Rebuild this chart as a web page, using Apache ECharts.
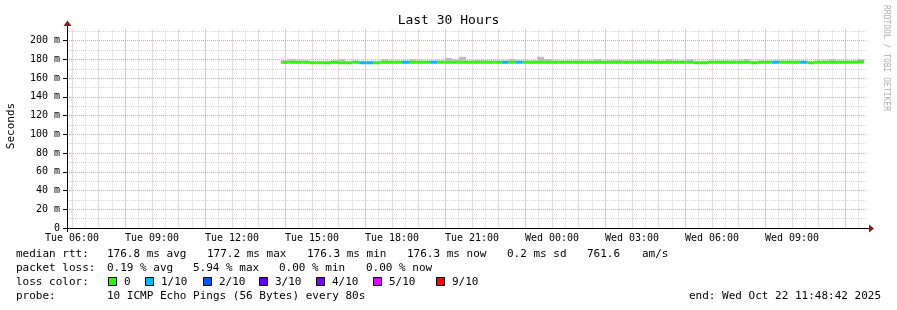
<!DOCTYPE html>
<html><head><meta charset="utf-8">
<script src="https://cdn.jsdelivr.net/npm/echarts@6/dist/echarts.min.js"></script>
<style>html,body{margin:0;padding:0;background:#fff}#c{width:897px;height:310px}</style>
</head><body><div id="c"></div>
<script>
// ---- chart data ----
const chartTitle = 'Last 30 Hours';
const yAxisTitle = 'Seconds';
const startHour = 5 + 48 / 60 + 42 / 3600;   // Tue 05:48:42, hours since Tue 00:00
const endHour = startHour + 30;                // Wed 11:48:42
const xLabelHours = [6, 9, 12, 15, 18, 21, 24, 27, 30, 33];
const xLabelTexts = ['Tue 06:00', 'Tue 09:00', 'Tue 12:00', 'Tue 15:00', 'Tue 18:00', 'Tue 21:00', 'Wed 00:00', 'Wed 03:00', 'Wed 06:00', 'Wed 09:00'];
const xStrongGridHours = [8, 11, 14, 17, 20, 23, 26, 29, 32, 35];
const xMajorGridHours = [6,7,9,10,12,13,15,16,18,19,21,22,24,25,27,28,30,31,33,34];
const xMinorGridHours = [6,6.5,7,7.5,8,8.5,9,9.5,10,10.5,11,11.5,12,12.5,13,13.5,14,14.5,15,15.5,16,16.5,17,17.5,18,18.5,19,19.5,20,20.5,21,21.5,22,22.5,23,23.5,24,24.5,25,25.5,26,26.5,27,27.5,28,28.5,29,29.5,30,30.5,31,31.5,32,32.5,33,33.5,34,34.5,35,35.5];
const yMajorTicks = [0, 20, 40, 60, 80, 100, 120, 140, 160, 180, 200];
const yTickLabels = ['0', '20 m', '40 m', '60 m', '80 m', '100 m', '120 m', '140 m', '160 m', '180 m', '200 m'];
const yMinorTicks = [0, 10, 20, 30, 40, 50, 60, 70, 80, 90, 100, 110, 120, 130, 140, 150, 160, 170, 180, 190, 200, 210];
const yMax = 212;

const dataStartHour = 13.84;        // first RRD row (Tue ~13:50)
const stepHours = 960 / 3600;       // 16 min consolidation step
// median rtt per step (ms)
const medianMs = [
 176.9,176.9,176.9,176.9,176.3,176.3,176.3,176.9,176.3,176.3,176.9,176.3,176.3,176.3,176.9,176.9,176.9,176.9,176.9,176.9,176.9,176.9,
 176.9,176.9,176.9,176.9,176.9,176.9,176.9,176.9,176.9,176.9,176.9,176.9,176.9,176.9,176.9,176.9,176.9,176.9,176.9,176.9,176.9,176.9,
 176.9,176.9,176.9,176.9,176.9,176.9,176.9,176.9,176.9,176.9,176.9,176.9,176.9,176.9,176.3,176.3,176.9,176.9,176.9,176.9,176.9,176.9,
 176.3,176.9,176.9,176.9,176.9,176.9,176.9,176.9,176.3,176.9,176.9,176.9,176.9,176.9,176.9,177.2];
// packet loss per step (%)
const lossPct = [
 0,0,0,0,0,0,0,0,0,0,0,5.94,1.39,0,0,0,0,1.39,0,0,0,1.39,
 0,0,0,0,0,0,0,0,0,1.39,0,1.39,0,0,0,0,0,0,0,0,0,0,
 0,0,0,0,0,0,0,0,0,0,0,0,0,0,0,0,0,0,0,0,0,0,
 0,0,0,1.39,0,0,0,1.39,0,0,0,0,0,0,0,0];
// top of the smoke (slowest pings) per step, ms
const smokeHighMs = [
 179.1,180.1,179.1,179.1,178.6,178.6,178.6,179.1,180.1,178.6,179.1,178.6,178.6,178.6,180.1,179.1,179.1,179.1,180.1,179.1,179.1,179.1,
 179.1,181.5,180.1,182.9,179.1,179.4,179.4,179.1,179.1,179.1,180.5,179.1,179.1,179.1,182.9,180.5,179.1,179.1,179.1,179.1,179.1,179.1,
 180.5,179.1,179.4,179.4,179.1,179.1,179.4,179.4,179.1,179.1,180.5,179.1,179.1,180.1,178.6,178.6,179.1,179.1,179.1,179.1,179.1,180.5,
 178.6,179.1,179.1,179.1,179.1,179.1,179.1,179.1,178.6,179.1,179.1,180.1,179.1,179.1,179.1,180.5];
const lossColors = ['#26ff00', '#00b8ff', '#0059ff', '#5e00ff', '#7e00ff', '#dd00ff', '#ff0000'];
const lossLegendLabels = ['0', '1/10', '2/10', '3/10', '4/10', '5/10', '9/10'];
const lossLegendLimits = [0, 1, 2, 3, 4, 5, 9];   // pings lost out of 10

const statRows = [
  [['median rtt:', 16], ['176.8 ms avg', 107], ['177.2 ms max', 207], ['176.3 ms min', 307], ['176.3 ms now', 407], ['0.2 ms sd', 507], ['761.6', 587], ['am/s', 642]],
  [['packet loss:', 16], ['0.19 % avg', 107], ['5.94 % max', 193], ['0.00 % min', 279], ['0.00 % now', 366]],
  [['loss color:', 16]],
  [['probe:', 16], ['10 ICMP Echo Pings (56 Bytes) every 80s', 107]]
];
const endText = 'end: Wed Oct 22 11:48:42 2025';
const watermark = 'RRDTOOL / TOBI OETIKER';

// ---- build ----
const FONT = 'DejaVu Sans Mono';
const chart = echarts.init(document.getElementById('c'), null, {renderer: 'canvas'});
const rows = medianMs.map((m, i) => [dataStartHour + i * stepHours, m, lossPct[i], m, smokeHighMs[i]]);

function lossColor(pct) {
  const pings = pct / 10;
  for (let k = 0; k < lossLegendLimits.length; k++) if (pings <= lossLegendLimits[k]) return lossColors[k];
  return lossColors[lossColors.length - 1];
}

const pxPerMs = 187.3 / 200;
const gridL = 67, gridR = 897 - 867, gridB = 310 - 228;
const gridT = 228 - yMax * pxPerMs;

const graphics = [];
graphics.push({type: 'text', x: 11, y: 126, rotation: Math.PI / 2, style: {text: yAxisTitle, font: '11px ' + FONT, fill: '#000', textAlign: 'center', textVerticalAlign: 'middle'}});
graphics.push({type: 'text', x: 886, y: 5, rotation: -Math.PI / 2, style: {text: watermark, font: '8px ' + FONT, fill: '#b0b0b0', textVerticalAlign: 'middle'}});
const rowY = [254, 268, 282, 296];
statRows.forEach((r, ri) => r.forEach(([t, x]) => graphics.push({type: 'text', x: x, y: rowY[ri], style: {text: t, font: '11px ' + FONT, fill: '#000', textVerticalAlign: 'middle'}})));
const boxX = [108, 145, 203, 259, 316, 373, 436];
lossColors.forEach((c, k) => {
  graphics.push({type: 'rect', shape: {x: boxX[k] + 0.5, y: 277.5, width: 8, height: 8}, style: {fill: c, stroke: '#000', lineWidth: 1}});
  graphics.push({type: 'text', x: boxX[k] + 16, y: 282, style: {text: lossLegendLabels[k], font: '11px ' + FONT, fill: '#000', textVerticalAlign: 'middle'}});
});
graphics.push({type: 'text', x: 881, y: 296, style: {text: endText, font: '11px ' + FONT, fill: '#000', textAlign: 'right', textVerticalAlign: 'middle'}});
// axis lines and arrows
graphics.push({type: 'line', z: 50, shape: {x1: 67.5, y1: 26, x2: 67.5, y2: 232}, style: {stroke: '#000', lineWidth: 1}});
graphics.push({type: 'line', z: 50, shape: {x1: 63, y1: 228.5, x2: 869, y2: 228.5}, style: {stroke: '#000', lineWidth: 1}});
graphics.push({type: 'polygon', z: 51, shape: {points: [[869, 224.5], [869, 232.5], [874, 228.5]]}, style: {fill: '#8b1a1a'}});
graphics.push({type: 'polygon', z: 51, shape: {points: [[63.5, 26], [71.5, 26], [67.5, 20.5]]}, style: {fill: '#8b1a1a'}});

const dotted = (c) => ({color: c, width: 1, type: [1, 1]});
const gridAxisX = (vals, color) => ({type: 'value', position: 'bottom', min: startHour, max: endHour, axisLine: {show: false}, axisLabel: {show: false},
  axisTick: {show: false, customValues: vals}, splitLine: {show: true, lineStyle: dotted(color)}});

chart.setOption({
  animation: false,
  backgroundColor: '#fff',
  title: {text: chartTitle, left: 'center', top: 9, textStyle: {fontFamily: FONT, fontSize: 13, fontWeight: 'normal', color: '#000'}},
  grid: {left: gridL, right: gridR, top: gridT, bottom: gridB, containLabel: false, outerBoundsMode: 'none'},
  xAxis: [
    gridAxisX(xMinorGridHours, '#d2d2d2'),
    gridAxisX(xMajorGridHours, '#f7c4c4'),
    gridAxisX(xStrongGridHours, '#f29a9a'),
    {type: 'value', position: 'bottom', min: startHour, max: endHour, axisLine: {show: false}, splitLine: {show: false},
     axisTick: {show: false, customValues: xLabelHours},
     axisLabel: {customValues: xLabelHours, margin: 5, fontFamily: FONT, fontSize: 10, color: '#000',
       formatter: v => { const i = xLabelHours.findIndex(h => Math.abs(h - v) < 1e-6); return i >= 0 ? xLabelTexts[i] : ''; }}}
  ],
  yAxis: [
    {type: 'value', position: 'left', min: 0, max: yMax, axisLine: {show: false}, axisLabel: {show: false}, axisTick: {show: false, customValues: yMinorTicks}, splitLine: {show: true, lineStyle: dotted('#d2d2d2')}},
    {type: 'value', position: 'left', min: 0, max: yMax, axisLine: {show: false}, splitLine: {show: true, lineStyle: dotted('#f29a9a')},
     axisTick: {show: true, length: 4, customValues: yMajorTicks, lineStyle: {color: '#000'}},
     axisLabel: {customValues: yMajorTicks, margin: 7, fontFamily: FONT, fontSize: 10, color: '#000',
       formatter: v => { const i = yMajorTicks.indexOf(v); return i >= 0 ? yTickLabels[i] : ''; }}}
  ],
  series: [
    {type: 'custom', xAxisIndex: 3, yAxisIndex: 1, data: rows, clip: true, z: 5,
     renderItem: (p, api) => {
       const t = api.value(0), lo = api.value(3), hi = api.value(4);
       const a = api.coord([t, hi]), b = api.coord([t + stepHours, lo]);
       return {type: 'rect', shape: {x: a[0], y: a[1], width: b[0] - a[0], height: b[1] - a[1]}, style: {fill: '#bdbdbd'}};
     }},
    {type: 'custom', xAxisIndex: 3, yAxisIndex: 1, data: rows, clip: true, z: 6,
     renderItem: (p, api) => {
       const t = api.value(0), m = api.value(1), l = api.value(2);
       const a = api.coord([t, m]), b = api.coord([t + stepHours, m]);
       return {type: 'rect', shape: {x: a[0], y: a[1] - 1.4, width: b[0] - a[0], height: 2.8}, style: {fill: lossColor(l)}};
     }}
  ],
  graphic: graphics
});
</script></body></html>
